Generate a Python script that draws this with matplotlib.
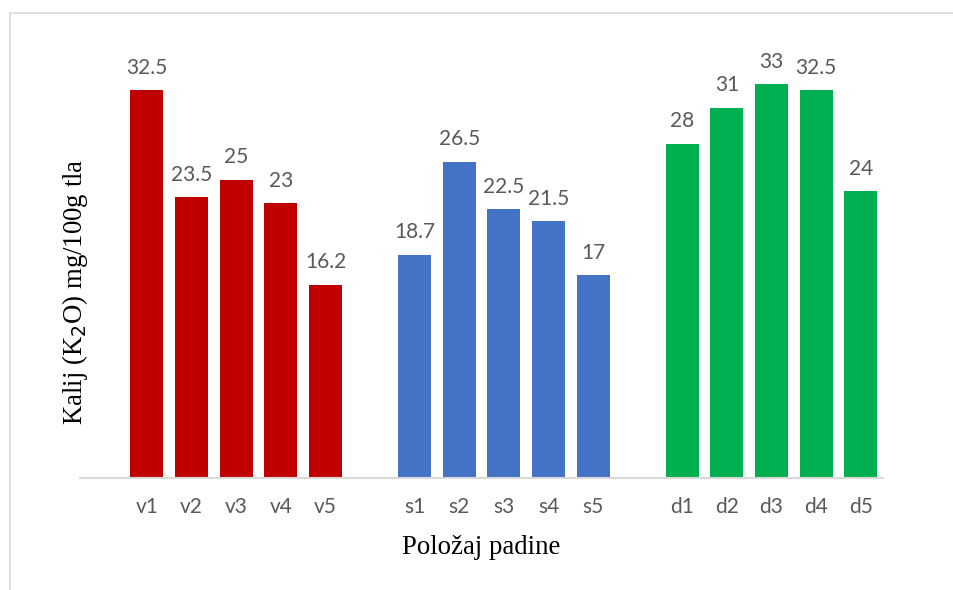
import matplotlib.pyplot as plt
from matplotlib.lines import Line2D

# slope positions and potassium values
labels_v = ['v1', 'v2', 'v3', 'v4', 'v5']
labels_s = ['s1', 's2', 's3', 's4', 's5']
labels_d = ['d1', 'd2', 'd3', 'd4', 'd5']
vals_v = [32.5, 23.5, 25, 23, 16.2]
vals_s = [18.7, 26.5, 22.5, 21.5, 17]
vals_d = [28, 31, 33, 32.5, 24]
val_text_v = ['32.5', '23.5', '25', '23', '16.2']
val_text_s = ['18.7', '26.5', '22.5', '21.5', '17']
val_text_d = ['28', '31', '33', '32.5', '24']

colors = ['#C00000', '#4472C4', '#00B050']
txt_gray = '#595959'

fig = plt.figure(figsize=(9.54, 5.9), dpi=100)
ax = fig.add_axes([0.0839, 0.19, 0.8417, 0.708])

groups = [(labels_v, vals_v, val_text_v), (labels_s, vals_s, val_text_s),
          (labels_d, vals_d, val_text_d)]
ticks, ticklabels = [], []
start = 0
for (labs, vals, vtxt), c in zip(groups, colors):
    xs = [start + i for i in range(len(vals))]
    bars = ax.bar(xs, vals, width=0.74, color=c, zorder=2)
    ax.bar_label(bars, labels=vtxt, padding=9, fontsize=15, color=txt_gray,
                 family='Lato', clip_on=False)
    ticks += xs
    ticklabels += labs
    start += len(vals) + 1  # one empty slot between groups

ax.set_xlim(-1.5, 16.5)
ax.set_ylim(0, 35)
ax.set_xticks(ticks)
ax.set_xticklabels(ticklabels, fontsize=15, color=txt_gray, family='Lato')
ax.tick_params(axis='x', length=0, pad=14)
ax.set_yticks([])
for side in ['top', 'right', 'left']:
    ax.spines[side].set_visible(False)
ax.spines['bottom'].set_color('#D9D9D9')
ax.spines['bottom'].set_linewidth(1.5)

# axis titles placed like the original chart
fig.text(75 / 954, 1 - 292 / 590, 'Kalij (K$_2$O) mg/100g tla', rotation=90,
         ha='center', va='center', fontsize=19.3, family='Liberation Serif')
fig.text(481 / 954, 1 - 547 / 590, 'Položaj padine', ha='center', va='center',
         fontsize=19.3, family='Liberation Serif')

# light chart-area border (top and left edges visible)
fig.add_artist(Line2D([0.0105, 0.0105], [0.0, 0.978], color='#D9D9D9', lw=1.2))
fig.add_artist(Line2D([0.0105, 1.0], [0.978, 0.978], color='#D9D9D9', lw=1.2))

fig.savefig('out.png', dpi=100)
